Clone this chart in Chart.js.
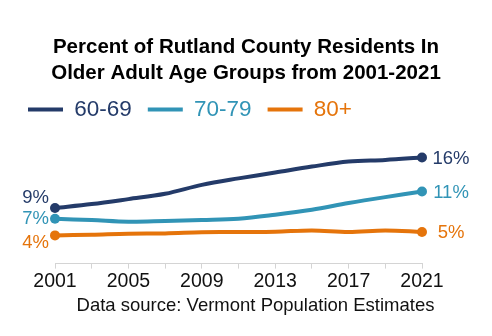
<!DOCTYPE html>
<html>
<head>
<meta charset="utf-8">
<script src="https://cdn.jsdelivr.net/npm/chart.js@4.4.1/dist/chart.umd.min.js"></script>
<style>
  html, body { margin: 0; padding: 0; background: #fff; }
</style>
</head>
<body>
<canvas id="ageChart" width="492" height="336"></canvas>
<script>
const years = ["2001", "2003", "2005", "2007", "2009", "2011", "2013", "2015", "2017", "2019", "2021"];
const age60to69 = [8.57, 9.18, 9.95, 10.77, 12.15, 13.15, 14.05, 14.97, 15.74, 16.0, 16.38];
const age70to79 = [6.92, 6.72, 6.46, 6.57, 6.72, 6.92, 7.54, 8.31, 9.34, 10.26, 11.12];
const age80plus = [4.35, 4.46, 4.62, 4.66, 4.82, 4.88, 4.92, 5.12, 4.88, 5.12, 4.88];
const seriesNames = ["60-69", "70-79", "80+"];

const FONT = '"Liberation Sans", Arial, sans-serif';
const colors = ["#243b69", "#3194b6", "#e5740b"];
// vertical nudge for the start-of-line labels so they don't collide
const leftNudge = [-10, 0, 7];

const endLabels = {
    id: "endLabels",
    afterDatasetsDraw(chart) {
        const ctx = chart.ctx;
        ctx.save();
        ctx.font = "18.5px " + FONT;
        ctx.textBaseline = "middle";
        chart.data.datasets.forEach(function (ds, i) {
            const pts = chart.getDatasetMeta(i).data;
            const first = pts[0];
            const last = pts[pts.length - 1];
            ctx.fillStyle = ds.borderColor;
            ctx.textAlign = "right";
            ctx.fillText(Math.round(ds.data[0]) + "%", first.x - 6, first.y + leftNudge[i]);
            ctx.textAlign = "center";
            ctx.fillText(Math.round(ds.data[ds.data.length - 1]) + "%", last.x + 29, last.y + 1);
        });

        // source note
        ctx.fillStyle = "#111";
        ctx.font = "18.5px " + FONT;
        ctx.textAlign = "center";
        ctx.fillText("Data source: Vermont Population Estimates", 255.5, 306);
        ctx.restore();
    }
};

function makeSet(label, values, color) {
    const last = values.length - 1;
    return {
        label: label,
        data: values,
        borderColor: color,
        backgroundColor: color,
        borderWidth: 4,
        tension: 0.35,
        clip: false,
        pointRadius: function (c) { return (c.dataIndex === 0 || c.dataIndex === last) ? 5 : 0; },
        pointHoverRadius: 5,
        pointBorderWidth: 0
    };
}

const ctx = document.getElementById("ageChart").getContext("2d");

new Chart(ctx, {
    type: "line",
    data: {
        labels: years,
        datasets: [
            makeSet(seriesNames[0], age60to69, colors[0]),
            makeSet(seriesNames[1], age70to79, colors[1]),
            makeSet(seriesNames[2], age80plus, colors[2])
        ]
    },
    options: {
        responsive: false,
        animation: false,
        layout: { padding: { left: 12, right: 12, top: 0, bottom: 42 } },
        plugins: {
            title: {
                display: true,
                text: ["Percent of Rutland County Residents In", "Older Adult Age Groups from 2001-2021"],
                color: "#000",
                font: { family: FONT, size: 20.5, weight: "bold", lineHeight: 1.25 },
                padding: { top: 35, bottom: -4 }
            },
            legend: {
                display: true,
                align: "start",
                labels: {
                    boxWidth: 35,
                    boxHeight: 4,
                    padding: 16,
                    font: { family: FONT, size: 22.5 },
                    generateLabels: function (chart) {
                        return chart.data.datasets.map(function (ds, i) {
                            return {
                                text: ds.label,
                                fillStyle: ds.borderColor,
                                strokeStyle: ds.borderColor,
                                fontColor: ds.borderColor,
                                lineWidth: 0,
                                datasetIndex: i,
                                hidden: false
                            };
                        });
                    }
                }
            },
            tooltip: { enabled: false }
        },
        scales: {
            x: {
                grid: { display: true, drawOnChartArea: false, tickLength: 5, color: "#d4d4d4" },
                border: { display: true, color: "#d4d4d4" },
                ticks: {
                    autoSkip: false,
                    maxRotation: 0,
                    padding: 1,
                    color: "#111",
                    font: { family: FONT, size: 19.5 },
                    callback: function (v, i) { return i % 2 === 0 ? this.getLabelForValue(v) : ""; }
                }
            },
            y: {
                min: 0,
                max: 20.5,
                grid: { display: false },
                border: { display: false },
                ticks: { display: false },
                afterFit: function (s) { s.width = 43; }
            },
            yRight: {
                position: "right",
                grid: { display: false },
                border: { display: false },
                ticks: { display: false },
                afterFit: function (s) { s.width = 58; }
            }
        }
    },
    plugins: [endLabels]
});
</script>
</body>
</html>
